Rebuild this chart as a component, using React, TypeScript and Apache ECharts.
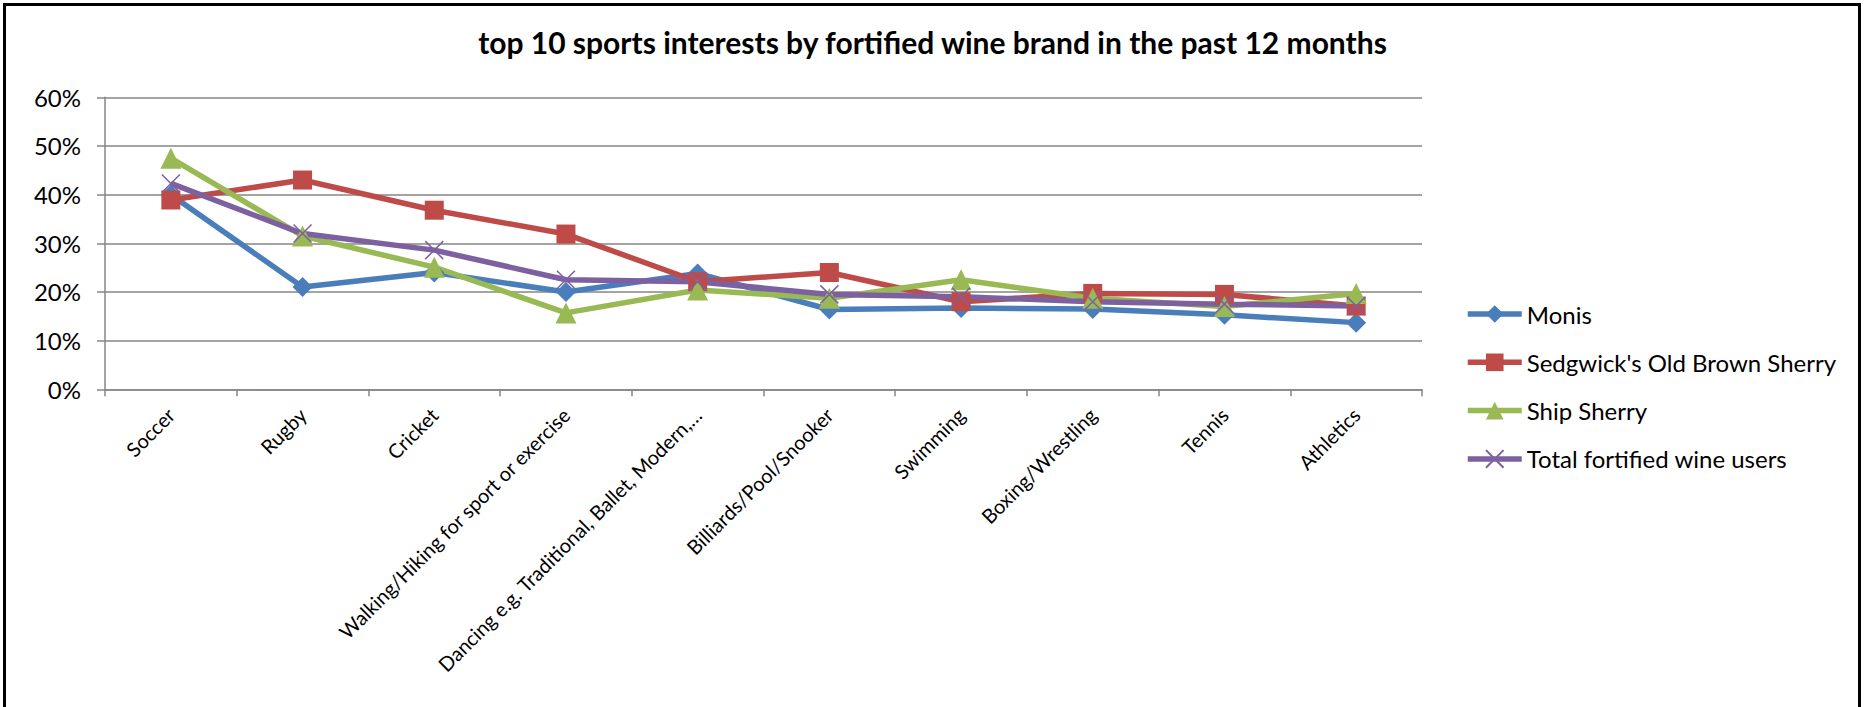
import React, { useEffect, useRef } from "react";
import * as echarts from "echarts";

const titleText = "top 10 sports interests by fortified wine brand in the past 12 months";

const categories = [
  "Soccer",
  "Rugby",
  "Cricket",
  "Walking/Hiking for sport or exercise",
  "Dancing e.g. Traditional, Ballet, Modern,…",
  "Billiards/Pool/Snooker",
  "Swimming",
  "Boxing/Wrestling",
  "Tennis",
  "Athletics",
];

const yTicks = { min: 0, max: 60, interval: 10 };

const seriesNames = [
  "Monis",
  "Sedgwick's Old Brown Sherry",
  "Ship Sherry",
  "Total fortified wine users",
];

const monis = [40, 21, 24, 20, 23.8, 16.4, 16.7, 16.5, 15.3, 13.7];
const sedgwicks = [38.9, 43, 36.8, 31.9, 22.1, 24, 18, 19.7, 19.5, 17.1];
const shipSherry = [47.5, 31.5, 25.1, 15.7, 20.4, 18.7, 22.5, 18.7, 17, 19.7];
const totalUsers = [42.3, 32, 28.6, 22.5, 22.1, 19.5, 19, 18, 17.5, 17.1];

const colors = ["#4A7EBB", "#BE4B48", "#98B954", "#7D60A0"];

const FONT = "Lato";
const LINE_W = 5.5;

export default function App() {
  const ref = useRef<HTMLDivElement>(null);

  useEffect(() => {
    document.body.style.margin = "0";
    if (!ref.current) return;
    const chart = echarts.init(ref.current, null, { renderer: "svg" });

    const mk = (
      name: string,
      data: number[],
      color: string,
      symbol: string,
      symbolSize: number,
      extraItem: any = {}
    ) => ({
      name,
      type: "line",
      data,
      symbol,
      symbolSize,
      showSymbol: true,
      lineStyle: { color, width: LINE_W },
      itemStyle: { color, ...extraItem },
      emphasis: { disabled: true },
    });

    chart.setOption({
      animation: false,
      backgroundColor: "#ffffff",
      textStyle: { fontFamily: FONT, color: "#000" },
      title: {
        text: titleText,
        left: "center",
        top: 22,
        textStyle: {
          fontFamily: FONT,
          fontSize: 30,
          fontWeight: "bold",
          color: "#000",
        },
      },
      grid: {
        left: 105,
        right: 443,
        top: 97.3,
        bottom: 317.7,
        containLabel: false,
      },
      legend: {
        orient: "vertical",
        left: 1460,
        top: 297,
        itemWidth: 54,
        itemHeight: 22,
        itemGap: 24.3,
        data: seriesNames,
        lineStyle: { width: LINE_W },
        textStyle: {
          fontFamily: FONT,
          fontSize: 24,
          lineHeight: 24,
          color: "#000",
        },
      },
      xAxis: {
        type: "category",
        data: categories,
        boundaryGap: true,
        axisLine: { lineStyle: { color: "#868686", width: 1.5 } },
        axisTick: {
          show: true,
          length: 7,
          lineStyle: { color: "#868686", width: 1.5 },
        },
        axisLabel: {
          rotate: 45,
          interval: 0,
          margin: 22,
          fontFamily: FONT,
          fontSize: 20,
          color: "#000",
        },
      },
      yAxis: {
        type: "value",
        min: yTicks.min,
        max: yTicks.max,
        interval: yTicks.interval,
        axisLine: { show: true, lineStyle: { color: "#868686", width: 1.5 } },
        axisTick: {
          show: true,
          length: 8,
          lineStyle: { color: "#868686", width: 1.5 },
        },
        splitLine: { lineStyle: { color: "#868686", width: 1.5 } },
        axisLabel: {
          formatter: "{value}%",
          margin: 24,
          fontFamily: FONT,
          fontSize: 24,
          color: "#000",
        },
      },
      graphic: [
        {
          type: "rect",
          shape: { x: 4.5, y: 4.5, width: 1855, height: 900 },
          style: { fill: "none", stroke: "#000", lineWidth: 3 },
          silent: true,
          z: 100,
        },
      ],
      series: [
        mk(seriesNames[0], monis, colors[0], "diamond", 20),
        mk(seriesNames[1], sedgwicks, colors[1], "rect", 19),
        mk(seriesNames[2], shipSherry, colors[2], "triangle", 21),
        mk(
          seriesNames[3],
          totalUsers,
          colors[3],
          "path://M0,0L10,10M10,0L0,10",
          18,
          { borderColor: colors[3], borderWidth: 1.5 }
        ),
      ],
    });

    return () => chart.dispose();
  }, []);

  return (
    <div
      ref={ref}
      style={{ position: "absolute", left: 0, top: 0, width: 1865, height: 707 }}
    />
  );
}
